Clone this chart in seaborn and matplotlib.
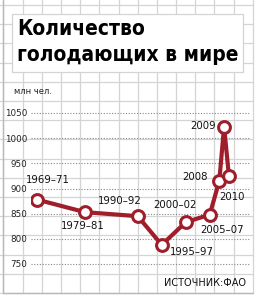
import matplotlib
matplotlib.use("Agg")
import matplotlib.pyplot as plt
import seaborn as sns
import pandas as pd
from matplotlib.patches import Rectangle

# ---- data ----
periods = ["1969–71", "1979–81", "1990–92", "1995–97", "2000–02", "2005–07", "2008", "2009", "2010"]
mid_years = [1970, 1980, 1991, 1996, 2001, 2006, 2008, 2009, 2010]
hungry_mln = [878, 853, 845, 788, 833, 848, 915, 1023, 925]
y_ticks = [750, 800, 850, 900, 950, 1000, 1050]
title_lines = ["Количество", "голодающих в мире"]
unit_label = "млн чел."
source_label = "ИСТОЧНИК:ФАО"

# label offsets in pixels (dx, dy) relative to each point
label_offsets = [(11, 20), (-2, -14), (-18, 15), (30, -7), (-11, 17), (12, -15), (-24, 4), (-21, 1), (3, -21)]

sns.set_theme(style="white")
plt.rcParams["font.family"] = ["Liberation Sans Narrow", "DejaVu Sans"]

W, H = 256, 298
fig = plt.figure(figsize=(W / 100, H / 100), dpi=100)
fig.patch.set_facecolor("white")

# background graph paper
bg = fig.add_axes([0, 0, 1, 1], zorder=0)
bg.set_xlim(0, W)
bg.set_ylim(H, 0)
bg.axis("off")
grid_c = "#d4d4d4"
step = 19.2
x = 3.3
while x < W:
    bg.plot([x, x], [0, 293], color=grid_c, lw=0.9)
    x += step
y = 293
while y > 0:
    bg.plot([0, 253], [y, y], color=grid_c, lw=0.9)
    y -= step
bg.plot([3.3, 3.3], [0, 293], color="#b8b8b8", lw=1)
bg.plot([3.3, 253], [293, 293], color="#b8b8b8", lw=1)
bg.add_patch(Rectangle((12, 14), 231, 58, facecolor="white", edgecolor=grid_c, lw=0.9, zorder=3))
for i, line in enumerate(title_lines):
    bg.text(17, 29 + 26 * i, line, fontsize=15, fontweight="heavy", family="DejaVu Sans",
            fontstretch="condensed", va="center", ha="left", zorder=4, color="black")
bg.text(14, 91, unit_label, fontsize=6, va="center", ha="left", color="#222222")
bg.text(246, 283, source_label, fontsize=7, va="center", ha="right", color="#111111")

# main chart axes
ylo, yhi = 690, 1080
ax = fig.add_axes([31 / W, (H - 294.2) / H, (250 - 31) / W, (294.2 - 97.9) / H], zorder=2)
ax.patch.set_alpha(0)
red = "#a01e2b"
df = pd.DataFrame({"year": mid_years, "value": hungry_mln, "period": periods})
sns.lineplot(data=df, x="year", y="value", ax=ax, color=red, lw=3, marker="o",
             markersize=8.5, markerfacecolor="white", markeredgecolor=red, markeredgewidth=2.2,
             sort=False, zorder=5)
ax.set_xlim(1968.75, 2014.4)
ax.set_ylim(ylo, yhi)
ax.set_yticks(y_ticks)
ax.set_yticklabels([str(v) for v in y_ticks], fontsize=6.3, color="#222222")
ax.set_xticks([])
ax.tick_params(axis="y", length=0, pad=2.5)
ax.set_xlabel("")
ax.set_ylabel("")
for s in ax.spines.values():
    s.set_visible(False)
for v in y_ticks:
    ax.axhline(v, color="#888888", lw=0.8, ls=(0, (1, 1.5)), zorder=1)

for xv, yv, lab, (dx, dy) in zip(mid_years, hungry_mln, periods, label_offsets):
    ax.annotate(lab, (xv, yv), xytext=(dx, dy), textcoords="offset pixels",
                ha="center", va="center", fontsize=7.3, color="#111111", zorder=6)

fig.savefig("out.png", dpi=100)
